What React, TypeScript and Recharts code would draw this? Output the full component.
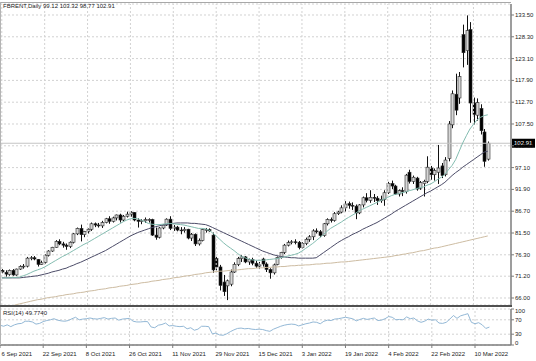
import React from "react";
import { ComposedChart, Bar, Line, XAxis, YAxis, CartesianGrid, ReferenceLine } from "recharts";

const symbol = "FBRENT,Daily";

const tickBars = [0, 12, 24, 36, 48, 60, 72, 84, 96, 108, 120, 132];
const tickLabels = [
  "6 Sep 2021", "22 Sep 2021", "8 Oct 2021", "26 Oct 2021", "11 Nov 2021", "29 Nov 2021",
  "15 Dec 2021", "3 Jan 2022", "19 Jan 2022", "4 Feb 2022", "22 Feb 2022", "10 Mar 2022",
];

const priceTicks = [66.0, 71.2, 76.3, 81.5, 86.7, 91.9, 97.1, 102.3, 107.5, 112.7, 117.9, 123.1, 128.3, 133.5];
const rsiTicks = [0, 30, 70, 100];

const open = [
  72.6, 72.1, 71.6, 72.6, 71.5, 72.9, 73.5, 73.6, 75.5, 75.6, 75.2, 74.0, 74.5, 76.2, 77.2, 78.1, 79.5, 78.9, 78.6, 78.3,
  79.3, 81.3, 82.6, 81.1, 81.9, 82.4, 83.7, 83.4, 83.2, 84.0, 84.9, 84.3, 85.1, 85.8, 84.6, 85.5, 86.0, 86.4, 84.6, 84.3,
  84.4, 84.7, 84.7, 81.0, 80.5, 82.7, 83.4, 84.8, 82.6, 82.9, 82.2, 82.1, 82.4, 80.3, 81.2, 78.9, 79.7, 82.3, 82.3, 81.0,
  75.4, 73.4, 69.8, 68.9, 69.3, 72.2, 74.0, 75.4, 75.8, 74.6, 75.2, 74.3, 73.6, 75.3, 74.1, 72.8, 72.0, 74.0, 75.7, 76.9,
  78.6, 79.2, 79.4, 79.3, 78.0, 79.0, 80.0, 80.6, 82.0, 81.8, 80.9, 83.7, 84.7, 84.5, 86.1, 86.5, 87.5, 88.5, 88.1, 87.9,
  86.3, 88.2, 89.9, 89.3, 90.0, 89.8, 89.2, 89.5, 91.1, 93.3, 92.7, 90.8, 91.6, 91.4, 96.0, 93.8, 94.6, 92.2, 93.3, 93.8,
  97.0, 95.4, 96.0, 97.5, 95.4, 99.3, 107.3, 114.6, 113.7, 128.8, 125.0, 130.0, 112.5, 109.6, 111.2, 105.6, 99.12,
];
const high = [
  72.9, 72.6, 72.8, 72.9, 73.0, 73.8, 74.1, 75.8, 76.0, 76.0, 75.3, 74.9, 76.4, 77.4, 78.2, 79.8, 80.0, 79.4, 79.0, 79.5,
  81.5, 82.8, 83.5, 82.0, 82.6, 84.0, 84.0, 83.9, 84.4, 85.1, 85.5, 85.4, 85.9, 86.1, 85.8, 86.6, 86.7, 86.5, 85.0, 84.8,
  85.2, 85.0, 84.9, 82.8, 82.9, 83.6, 85.0, 85.5, 83.4, 83.2, 82.9, 82.9, 82.5, 81.5, 81.4, 80.2, 82.4, 82.7, 82.6, 81.6,
  75.8, 73.9, 71.5, 70.4, 72.8, 74.5, 75.8, 76.2, 76.0, 75.4, 75.6, 74.9, 74.6, 75.6, 74.5, 73.1, 74.2, 75.9, 77.0, 78.9,
  79.7, 79.8, 80.0, 79.6, 79.3, 80.4, 81.0, 82.4, 82.6, 82.2, 83.9, 85.0, 85.2, 86.5, 86.8, 88.1, 89.1, 89.0, 88.8, 88.3,
  88.4, 90.2, 91.0, 91.7, 90.8, 90.3, 90.4, 91.7, 93.7, 94.0, 93.0, 91.9, 92.4, 95.6, 96.6, 95.2, 94.9, 93.9, 94.2, 99.8,
  97.5, 96.9, 102.5, 98.2, 99.6, 108.2, 115.5, 119.5, 119.9, 131.2, 133.4, 131.8, 113.8, 113.6, 112.2, 106.3, 103.32,
];
const low = [
  71.9, 71.1, 71.3, 71.3, 71.3, 72.7, 73.0, 73.3, 75.0, 75.0, 73.5, 73.9, 74.2, 75.9, 77.0, 78.0, 78.6, 78.0, 77.5, 77.9,
  79.0, 81.0, 79.5, 80.5, 81.4, 82.0, 82.9, 82.8, 82.7, 83.8, 83.7, 84.0, 84.5, 84.0, 84.3, 85.2, 85.4, 84.3, 82.8, 83.6,
  83.9, 84.0, 80.8, 79.9, 80.2, 82.4, 83.2, 82.2, 82.0, 81.9, 81.2, 81.6, 80.0, 79.6, 78.4, 78.5, 79.5, 81.6, 81.8, 72.0,
  72.6, 67.8, 66.5, 65.5, 68.8, 72.0, 73.6, 74.6, 74.3, 73.9, 73.8, 73.2, 72.9, 73.5, 72.2, 70.6, 71.6, 73.8, 75.4, 76.5,
  78.3, 78.8, 78.8, 77.6, 77.8, 78.6, 79.4, 79.8, 81.4, 80.5, 80.6, 83.3, 84.0, 84.2, 85.8, 86.2, 86.6, 87.3, 87.0, 84.8,
  86.0, 87.6, 88.8, 88.7, 88.9, 88.2, 88.7, 88.0, 90.8, 92.0, 90.6, 90.2, 90.3, 90.9, 93.3, 93.2, 91.6, 91.8, 90.2, 93.4,
  94.2, 94.0, 93.2, 94.6, 95.0, 98.6, 106.5, 109.6, 112.3, 121.0, 121.6, 107.8, 107.4, 108.3, 105.0, 97.3, 98.77,
];
const close = [
  72.2, 71.7, 72.6, 71.5, 72.9, 73.5, 73.6, 75.5, 75.6, 75.3, 74.0, 74.4, 76.2, 77.2, 78.1, 79.5, 78.9, 78.6, 78.3, 79.3,
  81.3, 82.6, 81.1, 81.9, 82.4, 83.7, 83.4, 83.2, 84.0, 84.9, 84.3, 85.1, 85.8, 84.6, 85.5, 86.0, 86.4, 84.6, 84.3, 84.4,
  84.7, 84.7, 81.0, 80.5, 82.7, 83.4, 84.8, 82.6, 82.9, 82.2, 82.1, 82.4, 80.3, 81.2, 78.9, 79.7, 82.3, 82.3, 82.0, 72.7,
  73.4, 69.0, 67.5, 70.1, 72.2, 74.0, 75.4, 75.8, 74.6, 75.2, 74.3, 73.6, 73.9, 74.1, 72.8, 72.0, 73.9, 75.7, 76.9, 78.6,
  79.2, 79.4, 79.3, 78.0, 79.0, 80.0, 80.6, 82.0, 81.8, 80.9, 83.7, 84.7, 84.5, 86.1, 86.5, 87.5, 88.4, 88.1, 87.9, 86.3,
  88.2, 89.9, 89.3, 90.0, 89.8, 89.2, 89.5, 91.1, 93.3, 92.7, 90.8, 91.6, 91.4, 95.3, 93.8, 94.8, 92.0, 93.5, 93.8, 97.2,
  95.4, 96.4, 97.0, 95.2, 98.9, 107.5, 114.7, 110.8, 118.8, 124.5, 129.8, 112.5, 109.8, 112.6, 105.9, 98.6, 102.91,
];

// moving averages as they sit on the picture
const maFast = [
  70.8, 70.8, 70.8, 70.9, 70.9, 71.0, 71.3, 71.6, 72.0, 72.4, 72.7, 73.0, 73.4, 73.9, 74.4, 74.9, 75.4, 75.9, 76.3, 76.8,
  77.3, 77.8, 78.3, 78.8, 79.2, 79.7, 80.2, 80.7, 81.2, 81.7, 82.2, 82.7, 83.2, 83.7, 84.2, 84.6, 84.9, 85.0, 84.9, 84.6,
  84.2, 83.8, 83.6, 83.5, 83.5, 83.6, 83.7, 83.8, 83.7, 83.6, 83.5, 83.4, 83.2, 83.0, 82.8, 82.6, 82.6, 82.5, 82.2, 81.5,
  80.8, 80.0, 79.2, 78.5, 77.9, 77.3, 76.6, 76.0, 75.6, 75.3, 75.1, 75.0, 75.0, 75.0, 75.1, 75.2, 75.3, 75.4, 75.6, 75.8,
  76.0, 76.2, 76.4, 76.7, 77.2, 77.8, 78.4, 79.0, 79.7, 80.4, 81.1, 81.9, 82.6, 83.1, 83.6, 84.1, 84.7, 85.2, 85.7, 86.2,
  86.8, 87.2, 87.6, 88.0, 88.4, 88.8, 89.2, 89.6, 90.0, 90.4, 90.7, 90.9, 91.1, 91.3, 91.6, 91.8, 92.1, 92.3, 92.5, 92.9,
  93.2, 93.7, 94.3, 94.8, 95.5, 96.6, 97.6, 99.0, 101.0, 103.0, 104.7, 106.3, 107.4, 108.5, 109.1, 109.5, 109.7,
];
const maSlow = [
  70.8, 70.8, 70.8, 70.8, 70.8, 70.8, 70.9, 71.0, 71.1, 71.2, 71.3, 71.5, 71.7, 71.9, 72.2, 72.4, 72.6, 72.9, 73.1, 73.5,
  73.8, 74.2, 74.5, 74.9, 75.3, 75.7, 76.1, 76.5, 76.9, 77.3, 77.8, 78.3, 78.8, 79.3, 79.8, 80.3, 80.8, 81.2, 81.6, 81.9,
  82.2, 82.5, 82.8, 83.0, 83.2, 83.4, 83.5, 83.7, 83.8, 83.9, 83.9, 83.9, 83.9, 83.8, 83.8, 83.7, 83.6, 83.5, 83.2, 82.8,
  82.4, 82.0, 81.6, 81.2, 80.8, 80.4, 80.0, 79.6, 79.2, 78.8, 78.4, 78.0, 77.6, 77.2, 76.9, 76.6, 76.3, 76.1, 75.9, 75.8,
  75.7, 75.6, 75.6, 75.5, 75.5, 75.5, 75.5, 75.5, 75.6, 76.2, 76.8, 77.4, 78.0, 78.6, 79.2, 79.7, 80.2, 80.6, 81.1, 81.5,
  81.9, 82.4, 82.8, 83.2, 83.6, 84.0, 84.5, 85.0, 85.5, 86.0, 86.6, 87.1, 87.6, 88.1, 88.6, 89.1, 89.6, 90.1, 90.6, 91.1,
  91.5, 92.0, 92.5, 93.0, 93.6, 94.4, 95.2, 95.9, 96.5, 97.2, 97.8, 98.4, 99.0, 99.6, 100.2, 100.8, 101.0,
];
const maLong = [
  63.5, 63.7, 63.9, 64.1, 64.4, 64.6, 64.8, 65.0, 65.2, 65.4, 65.6, 65.7, 65.9, 66.1, 66.2, 66.3, 66.5, 66.6, 66.8, 66.9,
  67.0, 67.2, 67.3, 67.4, 67.6, 67.7, 67.8, 68.0, 68.1, 68.2, 68.4, 68.5, 68.6, 68.8, 68.9, 69.0, 69.2, 69.3, 69.4, 69.6,
  69.7, 69.8, 70.0, 70.1, 70.2, 70.4, 70.5, 70.6, 70.8, 70.9, 71.0, 71.2, 71.3, 71.4, 71.6, 71.7, 71.8, 72.0, 72.1, 72.2,
  72.3, 72.4, 72.4, 72.5, 72.6, 72.7, 72.7, 72.8, 72.9, 73.0, 73.0, 73.1, 73.2, 73.2, 73.3, 73.3, 73.4, 73.4, 73.5, 73.5,
  73.6, 73.7, 73.7, 73.8, 73.8, 73.9, 73.9, 74.0, 74.1, 74.1, 74.2, 74.3, 74.3, 74.4, 74.5, 74.6, 74.6, 74.7, 74.8, 74.9,
  75.0, 75.1, 75.2, 75.3, 75.4, 75.5, 75.6, 75.7, 75.8, 75.9, 76.1, 76.2, 76.4, 76.5, 76.7, 76.8, 77.0, 77.2, 77.3, 77.5,
  77.7, 77.9, 78.0, 78.2, 78.4, 78.6, 78.8, 79.0, 79.2, 79.4, 79.6, 79.8, 80.0, 80.2, 80.4, 80.6, 80.8,
];
const rsi = [
  55, 52, 56, 51, 56, 59, 60, 66, 66, 64, 58, 60, 65, 68, 70, 73, 69, 67, 66, 68,
  73, 77, 70, 72, 73, 75, 73, 72, 74, 76, 72, 74, 75, 69, 72, 73, 74, 66, 64, 64,
  65, 65, 50, 48, 55, 57, 61, 53, 54, 52, 51, 52, 45, 48, 41, 44, 52, 52, 51, 31,
  33, 28, 27, 31, 37, 42, 46, 47, 45, 46, 44, 43, 44, 43, 40, 38, 44, 48, 52, 55,
  57, 58, 57, 53, 56, 59, 61, 64, 63, 59, 66, 69, 68, 72, 73, 75, 77, 75, 73, 67,
  71, 74, 71, 73, 75, 68, 69, 73, 79, 77, 70, 71, 70, 78, 73, 75, 67, 63, 66, 72,
  69, 70, 61, 60, 63, 72, 82, 74, 81, 84, 87, 63, 59, 62, 56, 46, 49.774,
];

const EXTRA_SLOTS = 6;
const last = close.length - 1;

const rows = [
  ...open.map((o, i) => ({
    i,
    o,
    h: high[i],
    l: low[i],
    c: close[i],
    fast: maFast[i],
    slow: maSlow[i],
    long: maLong[i],
    rsi: rsi[i],
  })),
  ...Array.from({ length: EXTRA_SLOTS }, (_, k) => ({ i: open.length + k })),
];

const FONT = "'Liberation Sans', Arial, sans-serif";
const TXT = "#1c1c1c";
const GRID = "#d2d2d2";
const AXIS = "#7c7c7c";

const Candle = (props: any) => {
  const { x, y, width, height, payload } = props;
  if (payload == null || payload.o == null) return null;
  const { o, h, l, c } = payload;
  const top = Math.min(y, y + height);
  const hh = Math.abs(height);
  const span = h - l || 1;
  const py = (v: number) => top + ((h - v) / span) * hh;
  const cx = Math.round(x + width / 2) + 0.5;
  const bTop = py(Math.max(o, c));
  const bBot = py(Math.min(o, c));
  const up = c >= o;
  return (
    <g>
      <line x1={cx} x2={cx} y1={top} y2={top + hh} stroke="#111" strokeWidth={1} />
      <rect
        x={cx - 1.5}
        y={bTop}
        width={3}
        height={Math.max(bBot - bTop, 0.8)}
        fill={up ? "#d6d6d6" : "#000"}
        stroke="#2a2a2a"
        strokeWidth={0.6}
      />
    </g>
  );
};

const PriceTick = (props: any) => {
  const { x, y, payload } = props;
  return (
    <text x={x - 1} y={y + 2} fontSize={6} fontFamily={FONT} fill={TXT} textAnchor="start">
      {Number(payload.value).toFixed(2)}
    </text>
  );
};

const RsiTick = (props: any) => {
  const { x, y, payload } = props;
  const v = payload.value;
  const dy = v === 100 ? 4 : v === 0 ? 0 : 2;
  return (
    <text x={x - 1} y={y + dy} fontSize={6} fontFamily={FONT} fill={TXT} textAnchor="start">
      {v}
    </text>
  );
};

const DateTick = (props: any) => {
  const { x, y, payload } = props;
  const k = tickBars.indexOf(Number(payload.value));
  return (
    <text x={Math.max(x - 0.5, 1.5)} y={y + 6} fontSize={6} fontFamily={FONT} fill={TXT} textAnchor="start">
      {k >= 0 ? tickLabels[k] : ""}
    </text>
  );
};

const PriceTag = (props: any) => {
  const vb = props.viewBox || {};
  const x0 = vb.x + vb.width + 1;
  return (
    <g>
      <rect x={x0} y={vb.y - 4.5} width={23} height={9} fill="#000" />
      <text x={x0 + 2} y={vb.y + 2} fontSize={6} fontFamily={FONT} fill="#fff">
        {close[last].toFixed(2)}
      </text>
    </g>
  );
};

export default function App() {
  return (
    <div
      style={{
        position: "absolute",
        left: 0,
        top: 0,
        width: 536,
        height: 361,
        background: "#fff",
        overflow: "hidden",
      }}
    >
      <div style={{ position: "absolute", left: 0, top: 0 }}>
        <ComposedChart width={536} height={307} data={rows} margin={{ top: 4, right: 0, bottom: 2, left: 0 }} barCategoryGap={0}>
          <CartesianGrid vertical={false} stroke={GRID} strokeDasharray="2 2" />
          <XAxis dataKey="i" type="category" hide />
          <YAxis
            orientation="right"
            width={25}
            domain={[64.33, 136.12]}
            allowDataOverflow
            ticks={priceTicks}
            interval={0}
            tick={<PriceTick />}
            tickSize={3}
            axisLine={{ stroke: AXIS, strokeWidth: 1.5 }}
            tickLine={{ stroke: AXIS }}
          />
          {tickBars.map((b) => (
            <ReferenceLine key={b} x={b} stroke={GRID} strokeDasharray="2 2" />
          ))}
          <ReferenceLine y={close[last]} stroke="#c4c4c4" label={<PriceTag />} />
          <Bar dataKey={(d: any) => (d.o == null ? null : [d.l, d.h])} shape={Candle} isAnimationActive={false} />
          <Line dataKey="long" stroke="#cdbca2" strokeWidth={1} dot={false} activeDot={false} isAnimationActive={false} />
          <Line dataKey="slow" stroke="#4c4c68" strokeWidth={1} dot={false} activeDot={false} isAnimationActive={false} />
          <Line dataKey="fast" stroke="#83bcb0" strokeWidth={1} dot={false} activeDot={false} isAnimationActive={false} />
        </ComposedChart>
      </div>
      <div style={{ position: "absolute", left: 0, top: 307 }}>
        <ComposedChart width={536} height={54} data={rows} margin={{ top: 2, right: 0, bottom: 2, left: 0 }}>
          <CartesianGrid vertical={false} stroke={GRID} strokeDasharray="2 2" />
          <XAxis
            dataKey="i"
            type="category"
            ticks={tickBars}
            interval={0}
            tick={<DateTick />}
            tickSize={3}
            height={14}
            axisLine={{ stroke: AXIS, strokeWidth: 1.5 }}
            tickLine={{ stroke: AXIS }}
          />
          <YAxis
            orientation="right"
            width={25}
            domain={[0, 100]}
            ticks={rsiTicks}
            interval={0}
            tick={<RsiTick />}
            tickSize={3}
            axisLine={{ stroke: AXIS, strokeWidth: 1.5 }}
            tickLine={{ stroke: AXIS }}
          />
          {tickBars.map((b) => (
            <ReferenceLine key={b} x={b} stroke={GRID} strokeDasharray="2 2" />
          ))}
          <Line dataKey="rsi" stroke="#93b8d6" strokeWidth={1} dot={false} activeDot={false} isAnimationActive={false} />
        </ComposedChart>
      </div>
      {/* panel frames */}
      <div style={{ position: "absolute", left: 0, top: 2, width: 511, height: 1, background: "#a8a8a8" }} />
      <div style={{ position: "absolute", left: 0, top: 2, width: 1, height: 343, background: "#b4b4b4" }} />
      <div style={{ position: "absolute", left: 0, top: 305, width: 512, height: 2, background: "#505050" }} />
      <svg width={536} height={361} style={{ position: "absolute", left: 0, top: 0, pointerEvents: "none" }}>
        <text x={3} y={8} fontSize={6} fontFamily={FONT} fill={TXT}>
          {`${symbol}  ${open[last].toFixed(2)} ${high[last].toFixed(2)} ${low[last].toFixed(2)} ${close[last].toFixed(2)}`}
        </text>
        <text x={3} y={315} fontSize={6} fontFamily={FONT} fill={TXT}>
          {`RSI(14) ${rsi[last].toFixed(4)}`}
        </text>
      </svg>
    </div>
  );
}
